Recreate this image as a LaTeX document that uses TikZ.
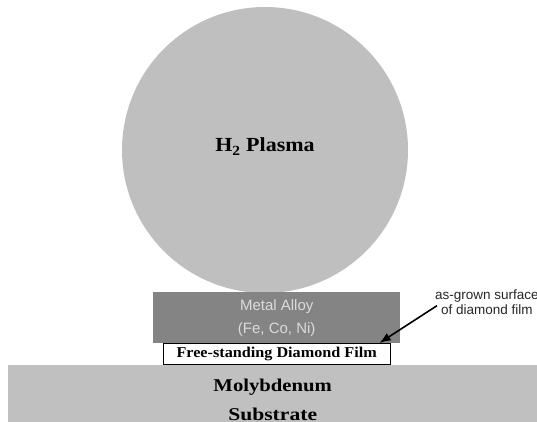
\documentclass[tikz,border=0pt]{standalone}
\usepackage{fontspec}
\setmainfont{Liberation Serif}
\setsansfont{Liberation Sans}
\usetikzlibrary{positioning, arrows.meta}
\definecolor{plasmagray}{RGB}{191,191,191}
\definecolor{alloygray}{RGB}{132,132,132}
\definecolor{substrategray}{RGB}{192,192,192}
\begin{document}
\begin{tikzpicture}[x=1pt, y=-1pt,
  layer/.style={rectangle, inner sep=0pt, anchor=north west, align=center},
  flow/.style={-{Latex[length=4mm, width=3mm]}, line width=1.6pt},
  note/.style={font=\sffamily\fontsize{13.5}{15}\selectfont, text=black!85, align=center,
               inner sep=0pt, anchor=north west},
]
  \useasboundingbox (0,0) rectangle (537,422);
  \node[circle, fill=plasmagray, minimum size=286pt, inner sep=0pt, text depth=10pt,
        font=\bfseries\fontsize{20}{24}\selectfont] (plasma) at (265,150)
    {\scalebox{1.1}[1]{H\textsubscript{2} Plasma}};
  \node[layer, fill=alloygray, minimum width=247pt, minimum height=51pt,
        font=\sffamily\fontsize{15}{23}\selectfont, text=white!86!black] (alloy) at (153,292)
    {Metal Alloy\\(Fe, Co, Ni)};
  \node[layer, draw, fill=white, minimum width=227pt, minimum height=21pt,
        font=\bfseries\fontsize{15}{17}\selectfont] (film) at (163,343)
    {\scalebox{1.08}[1]{Free-standing Diamond Film}};
  \node[layer, fill=substrategray, minimum width=529pt, minimum height=69pt,
        font=\bfseries\fontsize{18}{29}\selectfont] (substrate) at (8,365)
    {\scalebox{1.15}[1]{Molybdenum}\\\scalebox{1.2}[1]{Substrate}};
  \node[note] (grown) at (435,290) {as-grown surface\\of diamond film};
  % arrow points at the top face of the film, just left of its corner
  \coordinate (tip) at ([xshift=-11pt]film.north east);
  \draw[flow] ([xshift=2pt, yshift=-3pt]grown.west) -- (tip);
\end{tikzpicture}
\end{document}
